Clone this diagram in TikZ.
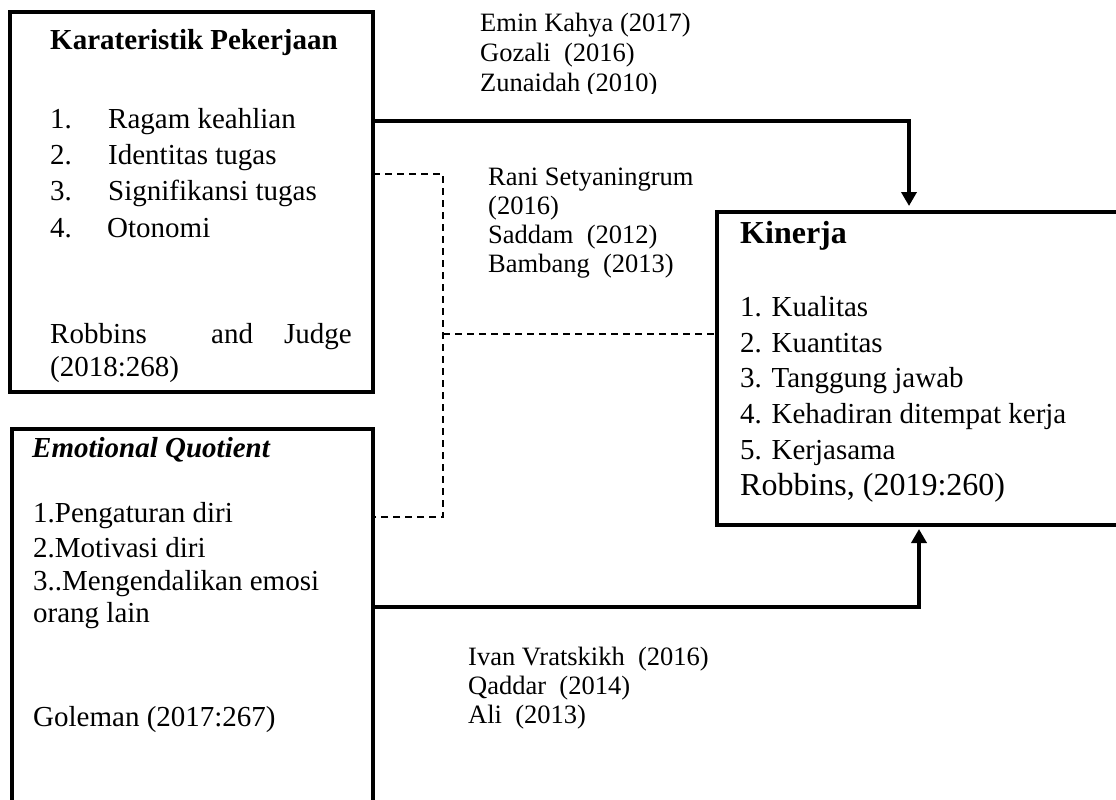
\documentclass[tikz,border=0pt]{standalone}
\usepackage{fontspec}
\setmainfont{Liberation Serif}
\usetikzlibrary{arrows.meta}
\begin{document}
\begin{tikzpicture}[x=1pt,y=-1pt,
  box/.style={draw, line width=4pt, inner sep=0pt, outer sep=0pt, anchor=north west},
  txt/.style={anchor=base west, inner sep=0pt, font=\fontsize{29}{36}\selectfont},
  cite/.style={anchor=base west, inner sep=0pt, font=\fontsize{26.5}{29}\selectfont},
  big/.style={anchor=base west, inner sep=0pt, font=\fontsize{32}{36}\selectfont},
  solidlink/.style={line width=4pt},
  dashlink/.style={line width=1.8pt, dash pattern=on 7pt off 5pt},
  arr/.style={-{Triangle[width=15pt,length=14pt]}}
]
\clip (0,0) rectangle (1116,800);

% boxes
\node[box, minimum width=363pt, minimum height=380pt] (kp) at (10,12) {};
\node[box, minimum width=361pt, minimum height=420pt] (eq) at (12,429) {};
\node[box, minimum width=430pt, minimum height=313pt] (kin) at (717,212) {};

% Karateristik Pekerjaan
\node[txt, font=\fontsize{29}{36}\selectfont\bfseries] (kpt) at (50,49) {Karateristik Pekerjaan};
\node[txt] (kn1) at (50,128) {1.};
\node[txt] (ki1) at (108,128) {Ragam keahlian};
\node[txt] (kn2) at (50,164) {2.};
\node[txt] (ki2) at (108,164) {Identitas tugas};
\node[txt] (kn3) at (50,200) {3.};
\node[txt] (ki3) at (108,200) {Signifikansi tugas};
\node[txt] (kn4) at (50,237) {4.};
\node[txt] (ki4) at (107,237) {Otonomi};
\node[txt] (kr1) at (50,343) {Robbins};
\node[txt] (kr2) at (211,343) {and};
\node[txt, anchor=base east] (kr3) at (352,343) {Judge};
\node[txt] (kr4) at (50,376) {(2018:268)};

% Emotional Quotient
\node[txt, font=\fontsize{29}{36}\selectfont\bfseries\itshape] (eqt) at (32,457) {Emotional Quotient};
\node[txt] (e1) at (33,522) {1.Pengaturan diri};
\node[txt] (e2) at (33,557) {2.Motivasi diri};
\node[txt] (e3) at (33,590) {3..Mengendalikan emosi};
\node[txt] (e4) at (33,622) {orang lain};
\node[txt] (e5) at (33,726) {Goleman (2017:267)};

% Kinerja
\node[big, font=\fontsize{32}{36}\selectfont\bfseries] (kint) at (740,243) {Kinerja};
\node[txt] (k1) at (740,316) {1. Kualitas};
\node[txt] (k2) at (740,352) {2. Kuantitas};
\node[txt] (k3) at (740,387) {3. Tanggung jawab};
\node[txt] (k4) at (740,423) {4. Kehadiran ditempat kerja};
\node[txt] (k5) at (740,459) {5. Kerjasama};
\node[big] (k6) at (740,495) {Robbins, (2019:260)};

% citations top
\node[cite] (c1) at (480,32) {Emin Kahya (2017)};
\node[cite] (c2) at (480,62) {Gozali\ \ (2016)};
\begin{scope}
  \clip (470,66) rectangle (720,93);
  \node[cite] (c3) at (480,92) {Zunaidah (2010)};
\end{scope}
% citations middle
\node[cite] (m1) at (488,185) {Rani Setyaningrum};
\node[cite] (m2) at (488,214) {(2016)};
\node[cite] (m3) at (488,243) {Saddam\ \ (2012)};
\node[cite] (m4) at (488,272) {Bambang\ \ (2013)};
% citations bottom
\node[cite] (b1) at (468,665) {Ivan Vratskikh\ \ (2016)};
\node[cite] (b2) at (468,694) {Qaddar\ \ (2014)};
\node[cite] (b3) at (468,723) {Ali\ \ (2013)};

% connectors
\coordinate (ct) at (909,121);
\draw[solidlink, arr, shorten >=6pt] (kp.east |- ct) -| (kin.north -| ct);

\coordinate (cb) at (919,607);
\draw[solidlink, arr, shorten >=4pt] (eq.east |- cb) -| (kin.south -| cb);

\coordinate (dt) at (443,174);
\coordinate (dm) at (443,334);
\coordinate (db) at (443,517);
\draw[dashlink] (kp.east |- dt) -- (dt) -- (db) -- (eq.east |- db);
\draw[dashlink] (dm) -- (kin.west |- dm);
\end{tikzpicture}
\end{document}
